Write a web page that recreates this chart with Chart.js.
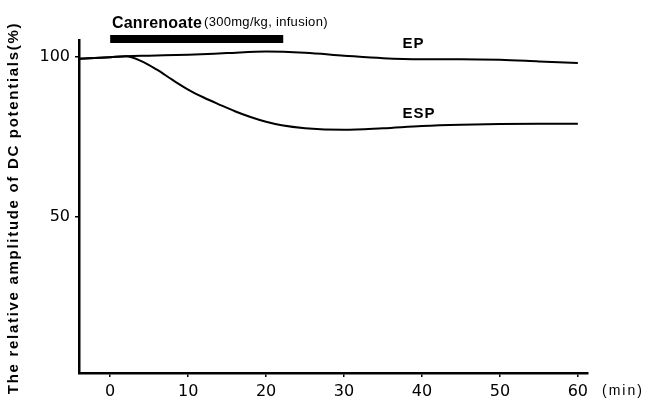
<!DOCTYPE html>
<html lang="en">
<head>
    <meta charset="UTF-8">
    <title>Canrenoate DC potentials</title>
    <script src="https://cdn.jsdelivr.net/npm/chart.js"></script>
    <style>
        html, body { margin: 0; padding: 0; background: #fff; }
        #wrap { width: 649px; height: 401px; position: relative; }
    </style>
</head>
<body>
    <div id="wrap"><canvas id="dcChart" width="649" height="401"></canvas></div>

    <script>
        // time (min) and relative amplitude (%)
        const epTimes = [-4, 0, 2, 5, 10, 15, 20, 25, 30, 35, 40, 45, 50, 55, 60];
        const epValues = [99.3, 99.8, 100.1, 100.3, 100.6, 101.1, 101.6, 101.2, 100.3, 99.5, 99.2, 99.2, 99.0, 98.5, 98.0];

        const espTimes = [-4, 0, 2, 4, 6, 8, 10, 12, 14, 16, 18, 20, 22, 25, 30, 35, 40, 45, 50, 55, 60];
        const espValues = [99.3, 99.8, 100.1, 98.6, 95.9, 92.7, 89.7, 87.2, 85.0, 82.9, 81.1, 79.6, 78.5, 77.6, 77.1, 77.6, 78.3, 78.7, 78.9, 79.0, 79.0];

        // infusion period
        const infusionTimes = [0, 22.2];
        const infusionLevel = 105.5;

        const xTicks = [0, 10, 20, 30, 40, 50, 60];
        const yTicks = [50, 100];

        const toPoints = (xs, ys) => xs.map((x, i) => ({ x: x, y: ys[i] }));

        const annotations = {
            id: 'annotations',
            afterDraw(chart) {
                const ctx = chart.ctx;
                const xs = chart.scales.x;
                ctx.save();
                ctx.fillStyle = '#000';
                ctx.textBaseline = 'middle';

                // drug label
                ctx.textAlign = 'left';
                ctx.font = 'bold 16px "Liberation Sans"';
                ctx.letterSpacing = '0.2px';
                ctx.fillText('Canrenoate', 112, 24);
                const w = ctx.measureText('Canrenoate').width;
                ctx.font = '13px "Liberation Sans"';
                ctx.letterSpacing = '0.3px';
                ctx.fillText('(300mg/kg, infusion)', 112 + w + 2, 22);

                // curve labels
                ctx.font = 'bold 15px "Liberation Sans"';
                ctx.letterSpacing = '1px';
                ctx.fillText('EP', xs.getPixelForValue(37.5), 44);
                ctx.fillText('ESP', xs.getPixelForValue(37.5), 114);

                // unit
                ctx.font = '14px "Liberation Sans"';
                ctx.letterSpacing = '2px';
                ctx.fillText('(min)', 602, 391);

                // y title
                ctx.font = 'bold 15px "Liberation Sans"';
                ctx.letterSpacing = '1.7px';
                ctx.translate(14, 208);
                ctx.rotate(-Math.PI / 2);
                ctx.textAlign = 'center';
                ctx.fillText('The relative amplitude of DC potentials(%)', 0, 0);
                ctx.restore();
            }
        };

        const ctx = document.getElementById('dcChart').getContext('2d');
        new Chart(ctx, {
            type: 'line',
            data: {
                datasets: [
                    {
                        label: 'EP',
                        data: toPoints(epTimes, epValues),
                        borderColor: '#000',
                        borderWidth: 2,
                        pointRadius: 0,
                        cubicInterpolationMode: 'monotone'
                    },
                    {
                        label: 'ESP',
                        data: toPoints(espTimes, espValues),
                        borderColor: '#000',
                        borderWidth: 2,
                        pointRadius: 0,
                        cubicInterpolationMode: 'monotone'
                    },
                    {
                        label: 'Infusion',
                        data: toPoints(infusionTimes, [infusionLevel, infusionLevel]),
                        borderColor: '#000',
                        borderWidth: 8,
                        borderCapStyle: 'butt',
                        pointRadius: 0,
                        clip: false
                    }
                ]
            },
            options: {
                responsive: false,
                animation: false,
                layout: { padding: { top: 40, right: 61, left: 0, bottom: 0 } },
                plugins: {
                    legend: { display: false },
                    tooltip: { enabled: false }
                },
                scales: {
                    x: {
                        type: 'linear',
                        min: -4,
                        max: 61.3,
                        afterBuildTicks: s => { s.ticks = xTicks.map(v => ({ value: v })); },
                        afterFit: s => { s.height = 28; },
                        grid: { drawOnChartArea: false, drawTicks: true, tickLength: 4, color: '#000', lineWidth: 1.5 },
                        border: { color: '#000', width: 2.5 },
                        ticks: {
                            color: '#000',
                            padding: 5,
                            maxRotation: 0,
                            font: { family: 'DejaVu Sans', size: 16 }
                        }
                    },
                    y: {
                        min: 1,
                        max: 105.2,
                        afterBuildTicks: s => { s.ticks = yTicks.map(v => ({ value: v })); },
                        afterFit: s => { s.width = 79; },
                        grid: { drawOnChartArea: false, drawTicks: true, tickLength: 4, color: '#000', lineWidth: 1.5 },
                        border: { color: '#000', width: 2.5 },
                        ticks: {
                            color: '#000',
                            padding: 5,
                            font: { family: 'DejaVu Sans', size: 16 }
                        }
                    }
                }
            },
            plugins: [annotations]
        });
    </script>
</body>
</html>
